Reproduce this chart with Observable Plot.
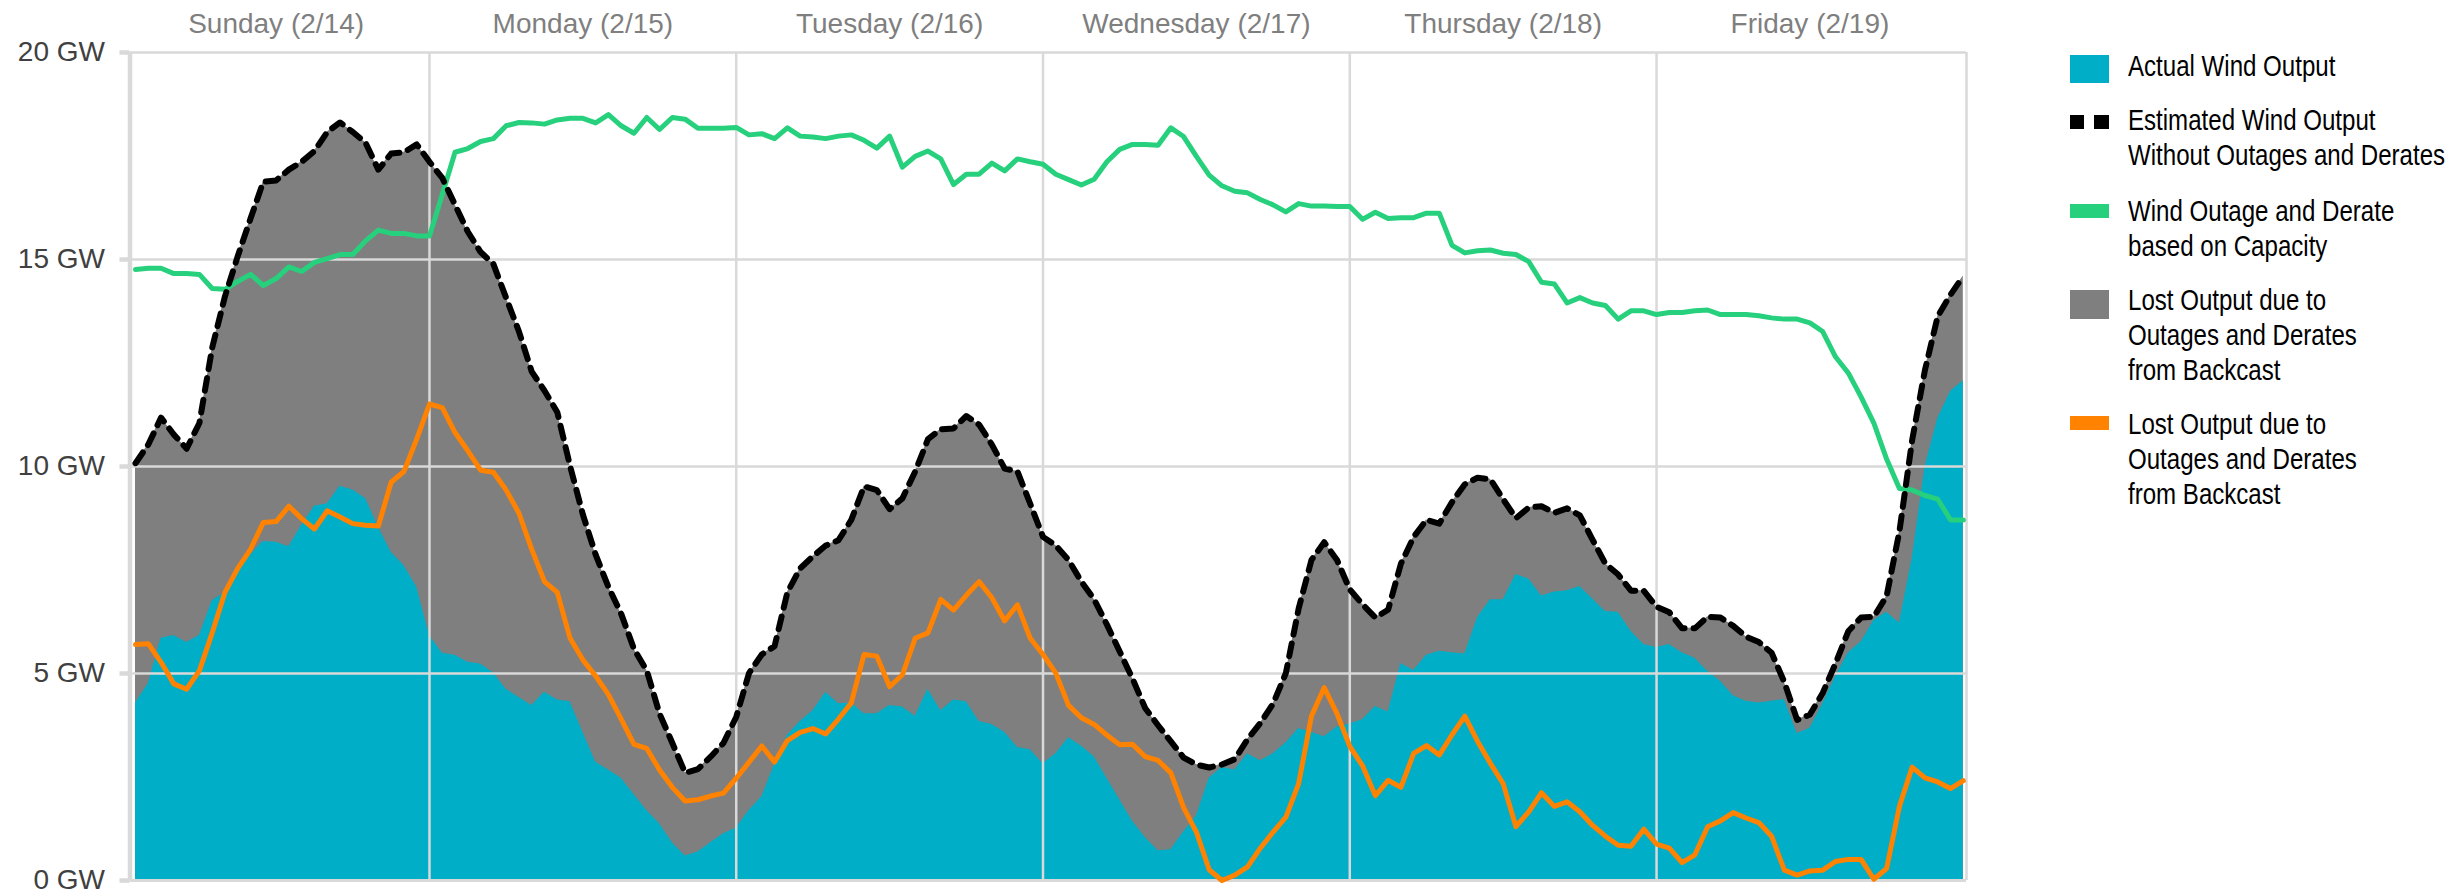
<!DOCTYPE html>
<html><head><meta charset="utf-8">
<script src="https://cdn.jsdelivr.net/npm/d3@7"></script>
<script src="https://cdn.jsdelivr.net/npm/@observablehq/plot@0.6"></script>
<style>
html,body{margin:0;padding:0;background:#fff;}
#wrap{position:relative;width:2450px;height:896px;font-family:"Liberation Sans",Arial,sans-serif;overflow:hidden;}
#chart{position:absolute;left:0;top:0;}
.lg-sw{position:absolute;}
.lg-tx{position:absolute;left:2128px;font-size:29px;line-height:35px;color:#000;white-space:nowrap;transform:scaleX(0.83);transform-origin:0 0;}
</style></head><body>
<div id="wrap"><div id="chart"></div></div>
<script>
// Hour-ending index, Sunday 2/14 01:00 through Friday 2/19 24:00
const hours = d3.range(1, 145);

// Actual Wind Output (GW)
const actual = [
 4.29,4.75,5.85,5.92,5.75,5.92,6.76,6.96,7.48,7.87,
 8.19,8.17,8.06,8.58,9.04,9.10,9.52,9.43,9.23,8.54,
 7.93,7.61,7.09,5.92,5.49,5.44,5.27,5.23,5.01,4.62,
 4.42,4.23,4.55,4.36,4.32,3.58,2.86,2.67,2.47,2.08,
 1.69,1.37,0.91,0.59,0.69,0.91,1.13,1.27,
 1.69,2.02,2.80,3.51,3.84,4.10,4.55,4.27,4.29,4.03,
 4.03,4.23,4.19,3.97,4.62,4.10,4.36,4.32,3.84,3.77,
 3.58,3.21,3.16,2.82,3.06,3.45,3.25,2.99,2.47,1.95,
 1.43,1.04,0.72,0.74,1.17,1.56,2.47,2.73,2.67,3.06,
 2.89,3.06,3.32,3.67,3.58,3.47,3.71,3.78,
 3.88,4.20,4.07,5.24,5.07,5.44,5.54,5.50,5.47,6.35,
 6.78,6.78,7.39,7.28,6.87,6.97,7.00,7.10,6.80,6.50,
 6.48,6.02,5.70,5.63,5.70,5.50,5.37,5.05,4.81,4.46,
 4.33,4.29,4.33,4.37,3.55,3.68,4.27,4.92,5.50,5.76,
 6.28,6.48,6.22,7.78,9.99,11.16,11.81,12.07
];

// Estimated Wind Output Without Outages and Derates (GW)
const estimated = [
 10.08,10.53,11.18,10.77,10.43,11.05,12.87,14.11,15.08,15.99,
 16.88,16.91,17.17,17.36,17.62,18.08,18.31,18.08,17.82,17.17,
 17.56,17.59,17.78,17.36,16.97,16.32,15.67,15.18,14.89,14.07,
 13.26,12.29,11.83,11.31,10.01,8.84,7.87,7.09,6.44,5.59,
 5.07,4.03,3.32,2.60,2.69,2.99,3.32,3.95,
 5.01,5.46,5.66,6.96,7.54,7.83,8.09,8.22,8.71,9.52,
 9.43,8.97,9.23,9.88,10.66,10.90,10.92,11.22,11.01,10.53,
 9.95,9.88,9.10,8.30,8.09,7.74,7.22,6.79,6.18,5.53,
 4.88,4.16,3.75,3.36,2.97,2.80,2.73,2.80,2.93,3.41,
 3.80,4.27,5.01,6.57,7.74,8.17,7.74,7.03,
 6.67,6.35,6.54,7.65,8.30,8.71,8.62,9.14,9.57,9.73,
 9.69,9.21,8.75,9.01,9.04,8.88,8.99,8.82,8.23,7.65,
 7.39,7.00,7.00,6.61,6.48,6.09,6.09,6.37,6.35,6.15,
 5.89,5.76,5.50,4.79,3.88,4.01,4.53,5.24,6.02,6.35,
 6.37,6.87,8.43,10.64,12.33,13.63,14.15,14.60
];

// Wind Outage and Derate based on Capacity (GW)
const capacityOutage = [
 14.76,14.79,14.79,14.66,14.66,14.64,14.30,14.28,14.47,14.64,
 14.37,14.54,14.82,14.71,14.93,15.02,15.12,15.12,15.45,15.71,
 15.63,15.63,15.57,15.57,16.57,17.59,17.68,17.85,17.92,18.23,
 18.31,18.30,18.27,18.37,18.41,18.41,18.30,18.50,18.23,18.05,
 18.43,18.14,18.43,18.39,18.17,18.17,18.17,18.19,
 18.01,18.04,17.92,18.18,17.98,17.96,17.92,17.98,18.01,17.88,
 17.69,17.98,17.23,17.49,17.62,17.43,16.81,17.06,17.06,17.33,
 17.14,17.43,17.36,17.30,17.06,16.93,16.80,16.94,17.36,17.66,
 17.78,17.78,17.76,18.18,17.97,17.49,17.04,16.78,16.65,16.61,
 16.45,16.32,16.15,16.35,16.29,16.29,16.28,16.28,
 15.97,16.14,15.99,16.01,16.01,16.12,16.12,15.34,15.16,15.21,
 15.23,15.15,15.12,14.95,14.45,14.41,13.95,14.08,13.95,13.89,
 13.56,13.76,13.76,13.67,13.72,13.72,13.76,13.78,13.67,13.67,
 13.67,13.64,13.59,13.56,13.56,13.47,13.26,12.65,12.26,11.68,
 11.05,10.18,9.47,9.43,9.30,9.21,8.71,8.71
];

// Lost Output due to Outages and Derates from Backcast (GW)
const lostOutput = [
 5.70,5.72,5.27,4.75,4.62,5.07,5.98,6.96,7.54,8.00,
 8.65,8.67,9.04,8.74,8.49,8.93,8.78,8.62,8.58,8.56,
 9.62,9.88,10.66,11.51,11.42,10.82,10.38,9.91,9.86,9.43,
 8.87,8.00,7.22,6.96,5.85,5.33,4.94,4.49,3.90,3.29,
 3.19,2.67,2.25,1.92,1.95,2.04,2.11,2.47,
 2.86,3.25,2.86,3.38,3.58,3.67,3.54,3.90,4.29,5.46,
 5.42,4.68,4.97,5.85,5.98,6.79,6.53,6.89,7.22,6.83,
 6.27,6.66,5.85,5.46,5.01,4.23,3.93,3.77,3.51,3.28,
 3.29,2.99,2.90,2.60,1.76,1.17,0.26,0.00,0.13,0.33,
 0.78,1.17,1.53,2.34,3.97,4.66,4.03,3.24,
 2.77,2.05,2.42,2.25,3.07,3.26,3.03,3.52,3.97,3.36,
 2.83,2.34,1.30,1.66,2.12,1.79,1.90,1.66,1.33,1.07,
 0.85,0.83,1.24,0.88,0.78,0.43,0.62,1.30,1.44,1.64,
 1.51,1.40,1.07,0.25,0.13,0.23,0.25,0.46,0.51,0.51,
 0.03,0.29,1.79,2.74,2.48,2.38,2.22,2.41
];

const dayLabels = ["Sunday (2/14)","Monday (2/15)","Tuesday (2/16)","Wednesday (2/17)","Thursday (2/18)","Friday (2/19)"];
const dayCenters = [12, 36, 60, 84, 108, 132];
const dayBounds = [24, 48, 72, 96, 120];
const yTicks = [0, 5, 10, 15, 20];

const legendLabels = [
 ["Actual Wind Output"],
 ["Estimated Wind Output", "Without Outages and Derates"],
 ["Wind Outage and Derate", "based on Capacity"],
 ["Lost Output due to", "Outages and Derates", "from Backcast"],
 ["Lost Output due to", "Outages and Derates", "from Backcast"]
];

const C = {teal:"#00AEC7", gray:"#7F7F7F", green:"#26D07C", orange:"#FF8200", grid:"#D9D9D9"};
const xDomain = [0.57, 144.25];

const data = hours.map((h, i) => ({h, actual: actual[i], est: estimated[i], cap: capacityOutage[i], lost: lostOutput[i]}));

const chart = Plot.plot({
  width: 2000, height: 896,
  marginLeft: 129.5, marginRight: 34, marginTop: 52, marginBottom: 16,
  style: {fontFamily: '"Liberation Sans", Arial, sans-serif', background: "#fff", overflow: "visible"},
  x: {type: "linear", domain: xDomain, label: null},
  y: {domain: [0, 20], label: null},
  marks: [
    Plot.areaY(data, {x: "h", y: "est", fill: C.gray}),
    Plot.areaY(data, {x: "h", y: "actual", fill: C.teal}),
    Plot.ruleY(yTicks.filter(d => d > 0), {stroke: C.grid, strokeWidth: 2.5}),
    Plot.ruleY([0], {stroke: C.grid, strokeWidth: 3}),
    Plot.ruleX(dayBounds, {stroke: C.grid, strokeWidth: 2.5}),
    Plot.ruleX([xDomain[1]], {stroke: C.grid, strokeWidth: 2.5}),
    Plot.ruleX([xDomain[0]], {stroke: C.grid, strokeWidth: 4.5}),
    Plot.axisY({ticks: yTicks, tickFormat: d => `${d} GW`, tickSize: 10, tickPadding: 15,
      stroke: C.grid, strokeWidth: 4.5, fill: "#404040", fontSize: 28, label: null}),
    Plot.axisX({anchor: "top", ticks: dayCenters, tickFormat: d => dayLabels[dayCenters.indexOf(d)],
      tickSize: 0, tickPadding: 20, fill: "#7F7F7F", fontSize: 28, label: null}),
    Plot.line(data, {x: "h", y: "cap", stroke: C.green, strokeWidth: 5}),
    Plot.line(data, {x: "h", y: "lost", stroke: C.orange, strokeWidth: 5}),
    Plot.line(data, {x: "h", y: "est", stroke: "#000", strokeWidth: 6, strokeDasharray: "13,9"})
  ]
});
document.getElementById("chart").appendChild(chart);

// Legend (HTML, right of the chart)
const wrap = document.getElementById("wrap");
const entryTop = [48.5, 102.5, 193.5, 282.5, 406.5];
const swatches = [
  [{l:2070, t:55, w:39, h:28, c:C.teal}],
  [{l:2070, t:115, w:14, h:14, c:"#000"}, {l:2094, t:115, w:15, h:14, c:"#000"}],
  [{l:2070, t:204, w:39, h:14, c:C.green}],
  [{l:2070, t:290, w:39, h:29, c:C.gray}],
  [{l:2070, t:416, w:39, h:14, c:C.orange}]
];
legendLabels.forEach((lines, k) => {
  swatches[k].forEach(s => {
    const d = document.createElement("div");
    d.className = "lg-sw";
    Object.assign(d.style, {left: s.l + "px", top: s.t + "px", width: s.w + "px", height: s.h + "px", background: s.c});
    wrap.appendChild(d);
  });
  lines.forEach((txt, j) => {
    const d = document.createElement("div");
    d.className = "lg-tx";
    d.style.top = (entryTop[k] + j * 35) + "px";
    d.textContent = txt;
    wrap.appendChild(d);
  });
});
</script>
</body></html>
